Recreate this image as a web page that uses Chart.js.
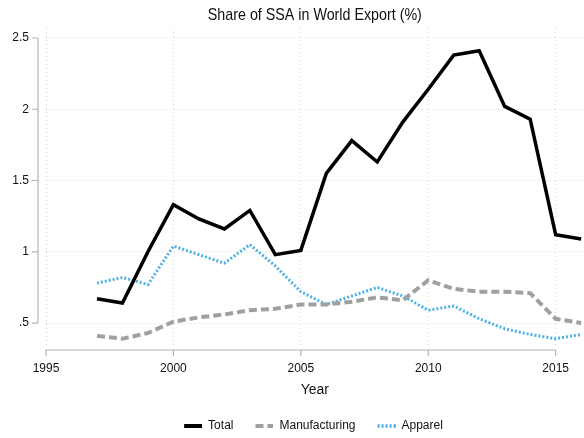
<!DOCTYPE html>
<html>
<head>
<meta charset="utf-8">
<script src="https://cdn.jsdelivr.net/npm/chart.js@4/dist/chart.umd.min.js"></script>
<style>
  html, body { margin: 0; padding: 0; background: #fff; }
</style>
</head>
<body>
<canvas id="ssaChart" width="584" height="438"></canvas>
<script>
const years = [1997, 1998, 1999, 2000, 2001, 2002, 2003, 2004, 2005, 2006,
               2007, 2008, 2009, 2010, 2011, 2012, 2013, 2014, 2015, 2016];
const total = [0.67, 0.64, 1.00, 1.33, 1.23, 1.16, 1.29, 0.98, 1.01, 1.55,
               1.78, 1.63, 1.91, 2.14, 2.38, 2.41, 2.02, 1.93, 1.12, 1.09];
const manufacturing = [0.41, 0.39, 0.43, 0.51, 0.54, 0.56, 0.59, 0.60, 0.63, 0.63,
                       0.65, 0.68, 0.66, 0.80, 0.74, 0.72, 0.72, 0.71, 0.53, 0.50];
const apparel = [0.78, 0.82, 0.77, 1.04, 0.98, 0.92, 1.05, 0.90, 0.72, 0.63,
                 0.69, 0.75, 0.69, 0.59, 0.62, 0.53, 0.46, 0.42, 0.39, 0.42];
const xTicks = [1995, 2000, 2005, 2010, 2015];
const yTicks = [0.5, 1, 1.5, 2, 2.5];
const yTickLabels = ['.5', '1', '1.5', '2', '2.5'];

const FONT = "'Liberation Sans', Arial, sans-serif";
const AXIS_GREY = '#b4b4b4';

// legend swatch: blank lead-in on the left, line on the right 18px
function swatch(color, width, dash) {
    const c = document.createElement('canvas');
    c.width = 38;
    c.height = 4;
    const g = c.getContext('2d');
    g.strokeStyle = color;
    g.lineWidth = width;
    g.setLineDash(dash);
    g.beginPath();
    g.moveTo(20, 2);
    g.lineTo(38, 2);
    g.stroke();
    return c;
}

const series = [
    {label: 'Total', values: total, color: '#000000', width: 3.5, dash: []},
    {label: 'Manufacturing', values: manufacturing, color: '#a0a0a0', width: 4, dash: [8, 4]},
    {label: 'Apparel', values: apparel, color: '#4db2e8', width: 3, dash: [2, 2]}
];

// Stata-like detached axes + title centred over the plot
const stataFrame = {
    id: 'stataFrame',
    afterLayout(chart) {
        // legend in the original sits a bit right of the canvas centre
        chart.legend.left += 23;
    },
    afterDraw(chart) {
        const ctx = chart.ctx;
        const area = chart.chartArea;
        const xs = chart.scales.x;
        const ys = chart.scales.y;
        ctx.save();
        ctx.strokeStyle = AXIS_GREY;
        ctx.lineWidth = 1.2;
        const ax = area.left - 8;
        ctx.beginPath();
        ctx.moveTo(ax, ys.getPixelForValue(yTicks[yTicks.length - 1]));
        ctx.lineTo(ax, ys.getPixelForValue(yTicks[0]));
        yTicks.forEach(v => {
            const py = ys.getPixelForValue(v);
            ctx.moveTo(ax, py);
            ctx.lineTo(ax - 6, py);
        });
        ctx.stroke();
        const ay = area.bottom + 4;
        ctx.beginPath();
        ctx.moveTo(xs.getPixelForValue(xTicks[0]), ay);
        ctx.lineTo(xs.getPixelForValue(xTicks[xTicks.length - 1]), ay);
        xTicks.forEach(v => {
            const px = xs.getPixelForValue(v);
            ctx.moveTo(px, ay);
            ctx.lineTo(px, ay + 6);
        });
        ctx.stroke();
        // title, condensed like the original
        ctx.fillStyle = '#111';
        ctx.font = '17px ' + FONT;
        ctx.textAlign = 'center';
        ctx.textBaseline = 'middle';
        ctx.translate((area.left + area.right) / 2, 15);
        ctx.scale(0.84, 1);
        ctx.fillText('Share of SSA in World Export (%)', 0, 0);
        ctx.restore();
    }
};

const ctx = document.getElementById('ssaChart').getContext('2d');
const ssaChart = new Chart(ctx, {
    type: 'line',
    data: {
        datasets: series.map(s => ({
            label: s.label,
            data: years.map((yr, i) => ({x: yr, y: s.values[i]})),
            borderColor: s.color,
            backgroundColor: s.color,
            borderWidth: s.width,
            borderDash: s.dash,
            borderCapStyle: 'butt',
            borderJoinStyle: 'miter',
            pointRadius: 0,
            tension: 0,
            fill: false,
            pointStyle: swatch(s.color, s.width + 0.5, s.dash)
        }))
    },
    plugins: [stataFrame],
    options: {
        responsive: false,
        animation: false,
        layout: {padding: {top: 28, left: 0, right: 0, bottom: -4}},
        plugins: {
            title: {display: false},
            tooltip: {enabled: false},
            legend: {
                position: 'bottom',
                labels: {
                    usePointStyle: true,
                    pointStyleWidth: 38,
                    padding: 2,
                    color: '#111',
                    font: {family: FONT, size: 12}
                }
            }
        },
        scales: {
            x: {
                type: 'linear',
                min: 1995,
                max: 2016.1,
                afterBuildTicks: scale => { scale.ticks = xTicks.map(v => ({value: v})); },
                afterFit: scale => { scale.height = 72; },
                grid: {color: '#d6d6d6', drawTicks: false, lineWidth: 1},
                border: {display: false, dash: [1, 3]},
                ticks: {
                    padding: 15,
                    color: '#111',
                    maxRotation: 0,
                    font: {family: FONT, size: 12},
                    callback: v => String(v)
                },
                title: {
                    display: true,
                    text: 'Year',
                    color: '#111',
                    font: {family: FONT, size: 14},
                    padding: {top: 0, bottom: 19}
                }
            },
            y: {
                type: 'linear',
                min: 0.339,
                max: 2.57,
                afterBuildTicks: scale => { scale.ticks = yTicks.map(v => ({value: v})); },
                afterFit: scale => { scale.width = 46; },
                grid: {color: '#d6d6d6', drawTicks: false, lineWidth: 1},
                border: {display: false, dash: [1, 3]},
                ticks: {
                    padding: 17,
                    color: '#111',
                    font: {family: FONT, size: 12},
                    callback: v => yTickLabels[yTicks.indexOf(v)]
                }
            }
        }
    }
});
</script>
</body>
</html>
